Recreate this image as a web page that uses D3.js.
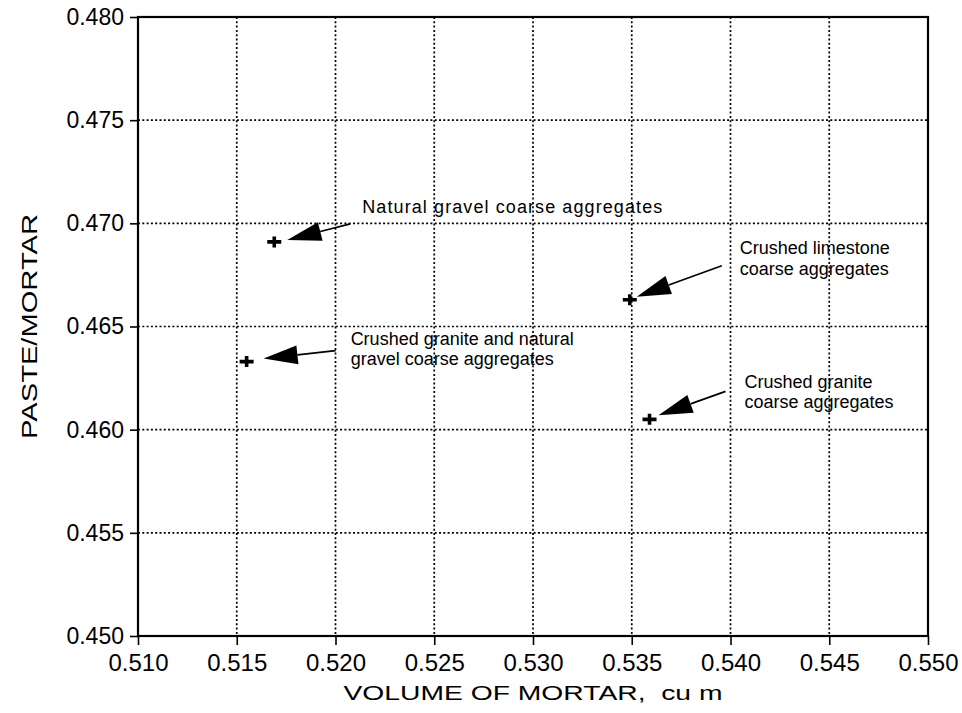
<!DOCTYPE html>
<html>
<head>
<meta charset="utf-8">
<script src="https://cdn.jsdelivr.net/npm/d3@7"></script>
<style>
  html, body { margin: 0; padding: 0; background: #fff; }
  svg { display: block; font-family: "Liberation Sans", Arial, Helvetica, sans-serif; }
</style>
</head>
<body>
<svg id="chart" width="962" height="713"></svg>
<script>
// Coarse aggregate groups with their mortar volume and paste/mortar ratio
const groups = [
  "Natural gravel",
  "Crushed granite and natural gravel",
  "Crushed limestone",
  "Crushed granite"
];
const mortarVolume = [0.5169, 0.5155, 0.5349, 0.5359];   // cu m
const pasteMortar  = [0.4691, 0.4633, 0.4663, 0.4605];

const xTicks = [0.510, 0.515, 0.520, 0.525, 0.530, 0.535, 0.540, 0.545, 0.550];
const yTicks = [0.450, 0.455, 0.460, 0.465, 0.470, 0.475, 0.480];

const labelLines = [
  ["Natural gravel coarse aggregates"],
  ["Crushed granite and natural", "gravel coarse aggregates"],
  ["Crushed limestone", "coarse aggregates"],
  ["Crushed granite", "coarse aggregates"]
];

// Callout placement relative to each marker (pixels); span = stretched line width
const callouts = [
  { tip: [13, -2], tail: [76, -18], text: [88, -29], lead: 20, span: 300 },
  { tip: [17, -3], tail: [89, -11], text: [104, -17], lead: 20 },
  { tip: [7, -3],  tail: [92, -34], text: [110, -46], lead: 21 },
  { tip: [9, -4],  tail: [76, -28], text: [95, -31],  lead: 20 }
];

const W = 962, H = 713;
const plot = { left: 138, right: 928, top: 17, bottom: 636 };

const svg = d3.select("#chart");
svg.append("rect").attr("width", W).attr("height", H).attr("fill", "#fff");

const x = d3.scaleLinear().domain([0.510, 0.550]).range([plot.left, plot.right]);
const y = d3.scaleLinear().domain([0.450, 0.480]).range([plot.bottom, plot.top]);
const fmt = d3.format(".3f");

// Dotted grid
const grid = svg.append("g")
  .attr("stroke", "#000").attr("stroke-width", 1.7).attr("stroke-dasharray", "2,2.3");
grid.selectAll("line.vx")
  .data(xTicks.slice(1, -1))
  .join("line").attr("class", "vx")
  .attr("x1", d => x(d)).attr("x2", d => x(d))
  .attr("y1", plot.top).attr("y2", plot.bottom);
grid.selectAll("line.hy")
  .data(yTicks.slice(1, -1))
  .join("line").attr("class", "hy")
  .attr("y1", d => y(d)).attr("y2", d => y(d))
  .attr("x1", plot.left).attr("x2", plot.right);

// Frame
svg.append("rect")
  .attr("x", plot.left).attr("y", plot.top)
  .attr("width", plot.right - plot.left).attr("height", plot.bottom - plot.top)
  .attr("fill", "none").attr("stroke", "#000").attr("stroke-width", 2.2);

// Axes
const xAxis = svg.append("g")
  .attr("transform", `translate(0,${plot.bottom})`)
  .call(d3.axisBottom(x).tickValues(xTicks).tickFormat(fmt).tickSize(9).tickPadding(9));
const yAxis = svg.append("g")
  .attr("transform", `translate(${plot.left},0)`)
  .call(d3.axisLeft(y).tickValues(yTicks).tickFormat(fmt).tickSize(8).tickPadding(6));

[xAxis, yAxis].forEach(a => {
  a.select(".domain").remove();
  a.selectAll(".tick line").attr("stroke", "#000").attr("stroke-width", 1.6);
  a.selectAll(".tick text").attr("fill", "#000");
  a.attr("font-family", null);
});
xAxis.attr("font-size", 24);
yAxis.attr("font-size", 23);

// Axis titles
svg.append("text")
  .attr("x", (plot.left + plot.right) / 2).attr("y", 700)
  .attr("text-anchor", "middle").attr("font-size", 21)
  .style("white-space", "pre")
  .attr("textLength", 379).attr("lengthAdjust", "spacingAndGlyphs")
  .text("VOLUME OF MORTAR,  cu m");

svg.append("text")
  .attr("transform", `translate(37,${(plot.top + plot.bottom) / 2}) rotate(-90)`)
  .attr("text-anchor", "middle").attr("font-size", 22)
  .attr("textLength", 225).attr("lengthAdjust", "spacingAndGlyphs")
  .text("PASTE/MORTAR");

// Markers, arrows and callout labels
const pts = groups.map((g, i) => ({
  name: g, px: x(mortarVolume[i]), py: y(pasteMortar[i]),
  lines: labelLines[i], c: callouts[i]
}));

const marks = svg.append("g");
pts.forEach(p => {
  // plus marker
  marks.append("path")
    .attr("d", `M${p.px - 7},${p.py}H${p.px + 7}M${p.px},${p.py - 5.5}V${p.py + 5.5}`)
    .attr("stroke", "#000").attr("stroke-width", 3.6).attr("fill", "none");

  // arrow from label toward marker
  const T = [p.px + p.c.tip[0], p.py + p.c.tip[1]];
  const E = [p.px + p.c.tail[0], p.py + p.c.tail[1]];
  const dx = E[0] - T[0], dy = E[1] - T[1];
  const len = Math.hypot(dx, dy);
  const ux = dx / len, uy = dy / len, nx = -uy, ny = ux;
  const L = 34, w = 9.5;
  const B = [T[0] + ux * L, T[1] + uy * L];
  marks.append("path")
    .attr("d", `M${T[0]},${T[1]}L${B[0] + nx * w},${B[1] + ny * w}L${B[0] - nx * w},${B[1] - ny * w}Z`)
    .attr("fill", "#000");
  marks.append("line")
    .attr("x1", B[0]).attr("y1", B[1]).attr("x2", E[0]).attr("y2", E[1])
    .attr("stroke", "#000").attr("stroke-width", 1.7);

  const t = marks.append("text")
    .attr("font-size", 18).attr("fill", "#000");
  p.lines.forEach((ln, k) => {
    const s = t.append("tspan")
      .attr("x", p.px + p.c.text[0])
      .attr("y", p.py + p.c.text[1] + k * p.c.lead)
      .text(ln);
    if (p.c.span) s.attr("textLength", p.c.span).attr("lengthAdjust", "spacing");
  });
});
</script>
</body>
</html>
